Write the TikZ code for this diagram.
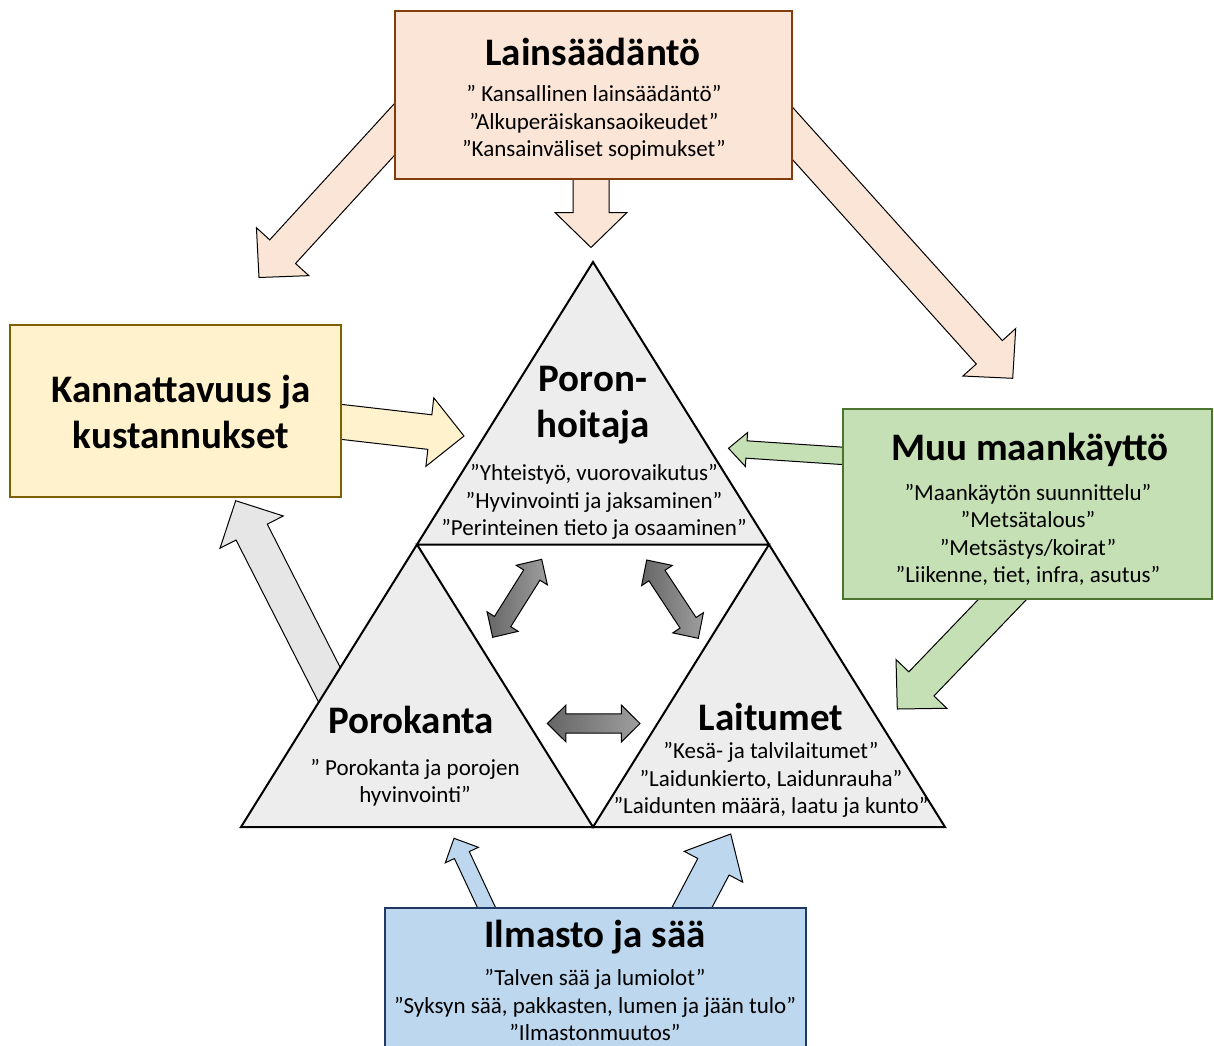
\documentclass[tikz,border=0pt]{standalone}
\usepackage{fontspec}
\setmainfont{Carlito}
\usepackage{xcolor}
\usetikzlibrary{calc, positioning, backgrounds}

\definecolor{lawfill}{HTML}{FBE5D6}
\definecolor{lawline}{HTML}{843C0C}
\definecolor{costfill}{HTML}{FFF2CC}
\definecolor{costline}{HTML}{7F6000}
\definecolor{landfill}{HTML}{C5E0B4}
\definecolor{landline}{HTML}{4A7530}
\definecolor{wxfill}{HTML}{BDD7EE}
\definecolor{wxline}{HTML}{203864}
\definecolor{trifill}{HTML}{EDEDED}
\definecolor{backfill}{HTML}{E7E6E6}

\newcommand{\blockarrow}[6][]{%
  \coordinate (ba-h) at ($(#3)!#6!(#2)$);
  \draw[arrowline,#1] ($(#2)!#4!90:(#3)$) -- ($(ba-h)!#4!-90:(#2)$)
    -- ($(ba-h)!#5!-90:(#2)$) -- (#3) -- ($(ba-h)!#5!90:(#2)$)
    -- ($(ba-h)!#4!90:(#2)$) -- ($(#2)!#4!-90:(#3)$) -- cycle;}
\newcommand{\twowayarrow}[5][]{%
  \coordinate (tw-a) at ($(#2)!#5!(#3)$);
  \coordinate (tw-b) at ($(#3)!#5!(#2)$);
  \draw[twoway,#1] (#2) -- ($(tw-a)!#4!90:(#3)$)
    -- ($(tw-a)!4.8pt!90:(#3)$) -- ($(tw-b)!4.8pt!-90:(#2)$)
    -- ($(tw-b)!#4!-90:(#2)$) -- (#3) -- ($(tw-b)!#4!90:(#2)$)
    -- ($(tw-b)!4.8pt!90:(#2)$) -- ($(tw-a)!4.8pt!-90:(#3)$)
    -- ($(tw-a)!#4!-90:(#3)$) -- cycle;}

\begin{document}
\begin{tikzpicture}[
  x=0.5pt, y=-0.5pt,
  box/.style={draw, line width=1.25pt, inner sep=0pt},
  title/.style={font=\fontsize{19.5}{23}\selectfont\bfseries, align=center, inner sep=0pt},
  items/.style={font=\fontsize{11.5}{13.7}\selectfont, align=center, inner sep=0pt},
  arrowline/.style={draw=black, line width=0.5pt, line join=miter},
  twoway/.style={arrowline, left color=black!60, right color=black!38},
]
\useasboundingbox (0,0) rectangle (1214,1045);

\node[box, draw=lawline, fill=lawfill, minimum width=198.5pt, minimum height=84pt] (lain) at (593.5,95) {};
\node[title] (lainT) at (593,52) {Lainsäädäntö};
\node[items] (lainL) at (594,123) {” Kansallinen lainsäädäntö”\\”Alkuperäiskansaoikeudet”\\”Kansainväliset sopimukset”};

\node[box, draw=costline, fill=costfill, minimum width=165.5pt, minimum height=86pt] (kann) at (175.5,411) {};
\node[title] (kannT) at (181,412) {Kannattavuus ja\\kustannukset};

\node[box, draw=landline, fill=landfill, minimum width=184.5pt, minimum height=95pt] (muu) at (1027.5,504) {};
\node[title] (muuT) at (1030,450) {Muu maankäyttö};
\node[items] (muuL) at (1028,535) {”Maankäytön suunnittelu”\\”Metsätalous”\\”Metsästys/koirat”\\”Liikenne, tiet, infra, asutus”};

\node[box, draw=wxline, fill=wxfill, minimum width=210.5pt, minimum height=76pt] (ilma) at (595.5,984) {};
\node[title] (ilmaT) at (595,937) {Ilmasto ja sää};
\node[items] (ilmaL) at (595,1005) {”Talven sää ja lumiolot”\\”Syksyn sää, pakkasten, lumen ja jään tulo”\\”Ilmastonmuutos”};

\coordinate (apex) at (593,262);
\coordinate (bl) at (241,827);
\coordinate (br) at (945,827);
\coordinate (ml) at (417,544.5);
\coordinate (mr) at (769,544.5);
\coordinate (mb) at (593,827);
\fill[trifill] (apex) -- (ml) -- (mr) -- cycle;
\fill[trifill] (ml) -- (bl) -- (mb) -- cycle;
\fill[trifill] (mr) -- (mb) -- (br) -- cycle;
\draw[line width=1pt, line join=miter] (apex) -- (bl) -- (br) -- cycle (ml) -- (mr) -- (mb) -- cycle;

\node[title] (poron) at (593,405) {Poron-\\hoitaja};
\node[items] (poronL) at (594,502) {”Yhteistyö, vuorovaikutus”\\”Hyvinvointi ja jaksaminen”\\”Perinteinen tieto ja osaaminen”};
\node[title] (kanta) at (411,720) {Porokanta};
\node[items] (kantaL) at (415,783) {” Porokanta ja porojen\\hyvinvointi”};
\node[title] (laidun) at (771,717) {Laitumet};
\node[items] (laidunL) at (771,780) {”Kesä- ja talvilaitumet”\\”Laidunkierto, Laidunrauha”\\”Laidunten määrä, laatu ja kunto”};

\coordinate (lawOut1) at (591,170);
\coordinate (lawIn1) at (591,247.5);
\coordinate (lawOut2) at (415,107);
\coordinate (lawIn2) at (259,277.5);
\coordinate (lawOut3) at (772.7,111.4);
\coordinate (lawIn3) at (1012.7,378.3);
\coordinate (kannOut) at (320,419.4);
\coordinate (kannIn) at (464,436);
\coordinate (kantaOut) at (340,705.6);
\coordinate (kantaIn) at (235.7,500.7);
\coordinate (muuOut1) at (860,457);
\coordinate (muuIn1) at (728.5,448.3);
\coordinate (muuOut2) at (1016.4,584.9);
\coordinate (muuIn2) at (897.3,709);
\coordinate (ilmaOut1) at (490,915);
\coordinate (ilmaIn1) at (454,838.3);
\coordinate (ilmaOut2) at (688,915);
\coordinate (ilmaIn2) at (730.7,834);

\begin{scope}[on background layer]
\blockarrow[fill=lawfill]{lawOut1}{lawIn1}{9pt}{18pt}{17.5pt}
\blockarrow[fill=lawfill]{lawOut2}{lawIn2}{8.75pt}{17.75pt}{17.5pt}
\blockarrow[fill=lawfill]{lawOut3}{lawIn3}{8.75pt}{17.75pt}{17.5pt}
\blockarrow[fill=costfill]{kannOut}{kannIn}{8.7pt}{17.25pt}{17.2pt}
\blockarrow[fill=backfill]{kantaOut}{kantaIn}{8.75pt}{17.75pt}{17.6pt}
\blockarrow[fill=landfill]{muuOut1}{muuIn1}{4.35pt}{8.5pt}{9pt}
\blockarrow[fill=landfill]{muuOut2}{muuIn2}{8.7pt}{17.6pt}{17.4pt}
\blockarrow[fill=wxfill]{ilmaOut1}{ilmaIn1}{4.1pt}{9.15pt}{9.25pt}
\blockarrow[fill=wxfill]{ilmaOut2}{ilmaIn2}{8.85pt}{16.5pt}{18.5pt}
\end{scope}

\coordinate (pk1) at (492.7,637.3);
\coordinate (pk2) at (541.7,559.3);
\coordinate (pl1) at (646.7,560);
\coordinate (pl2) at (698.3,638.3);
\coordinate (kl1) at (547.3,723.5);
\coordinate (kl2) at (640,723.5);
\twowayarrow{pk1}{pk2}{9.2pt}{9.3pt}
\twowayarrow{pl1}{pl2}{9.2pt}{9.3pt}
\twowayarrow{kl1}{kl2}{9.2pt}{9.3pt}
\end{tikzpicture}
\end{document}
